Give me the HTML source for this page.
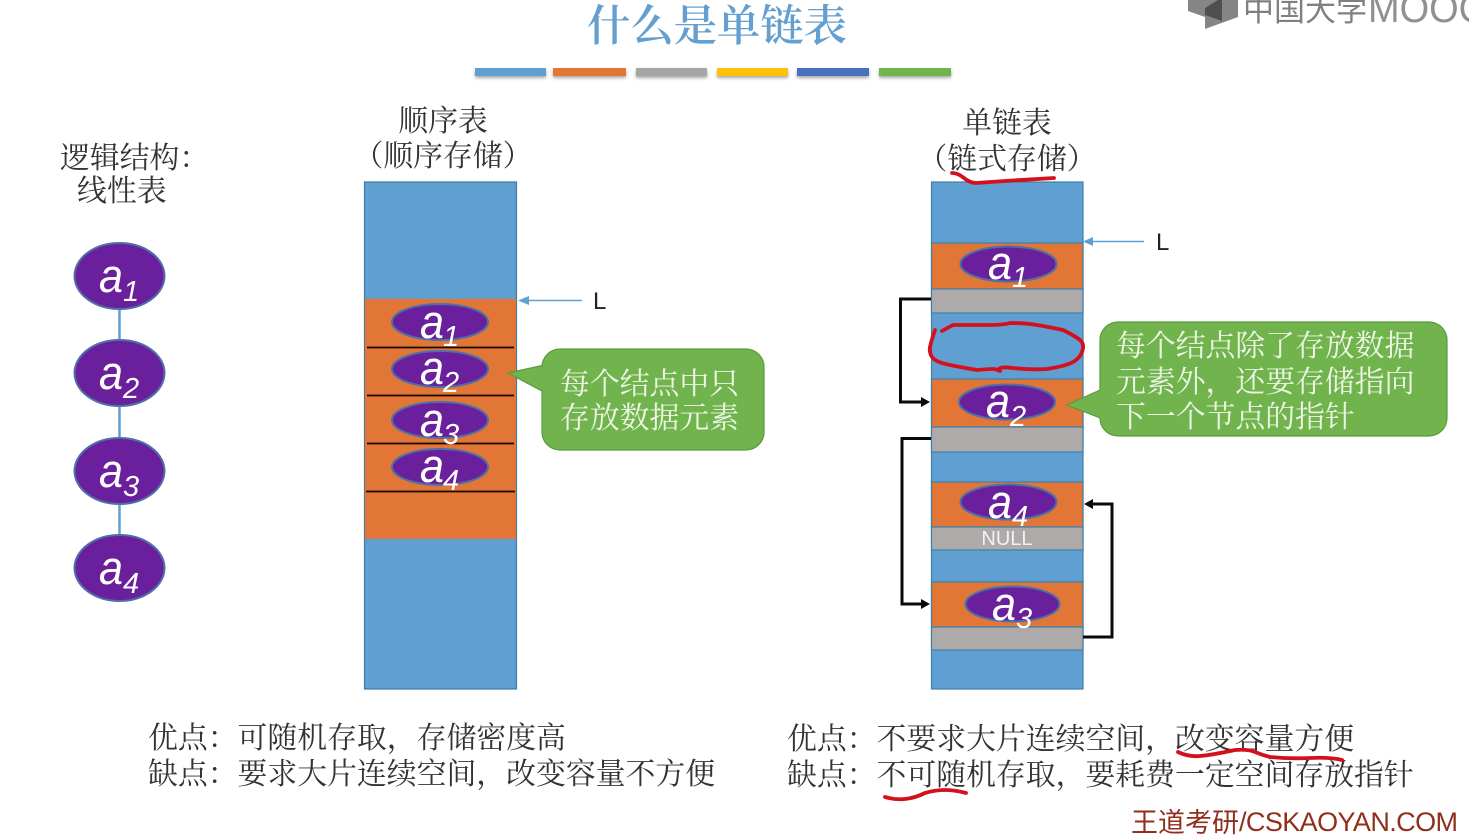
<!DOCTYPE html>
<html><head><meta charset="utf-8"><style>
html,body{margin:0;padding:0;background:#fff;overflow:hidden}
svg{display:block}
text{text-spacing-trim:space-all;font-feature-settings:"palt" 0}
.s{font-family:"Noto Serif CJK SC",serif;font-size:29.85px;fill:#333}
.w{fill:#eef6e6}
.a{font-family:"Liberation Sans","DejaVu Sans",sans-serif;font-style:italic;fill:#fff;font-size:47px}
.b{font-size:29px;font-style:italic}
.red{fill:none;stroke:#d4101c;stroke-width:3.8;stroke-linecap:round;stroke-linejoin:round}
.k{fill:none;stroke:#0a0a0a;stroke-width:3}
.el{fill:#6a1f9c;stroke:#4f6fa8;stroke-width:2}
.cell{stroke:#3f7fa8;stroke-width:1.2}
</style></head><body>
<svg width="1469" height="840" viewBox="0 0 1469 840" xmlns="http://www.w3.org/2000/svg">
<defs><filter id="sh" x="-10%" y="-50%" width="120%" height="220%"><feDropShadow dx="0" dy="2" stdDeviation="1.5" flood-color="#000" flood-opacity=".35"/></filter></defs>

<!-- title -->
<text x="587" y="41" font-family='"Noto Serif CJK SC",serif' font-size="43.5" font-weight="600" fill="#659fd0" textLength="260">什么是单链表</text>
<g filter="url(#sh)">
<rect x="475" y="68" width="71" height="8" fill="#609fd2"/>
<rect x="553" y="68" width="73" height="8" fill="#e27636"/>
<rect x="636" y="68" width="71" height="8" fill="#a5a5a5"/>
<rect x="717" y="68" width="71" height="8" fill="#fcc00f"/>
<rect x="797" y="68" width="72" height="8" fill="#4672bd"/>
<rect x="879" y="68" width="72" height="8" fill="#71b44e"/>
</g>

<!-- logo -->
<polygon points="1188,0 1238,0 1238,17 1205,29 1205,17 1188,11" fill="#858585"/>
<polygon points="1205,8 1218,0 1222,0 1222,21 1205,15" fill="#4f4f4f"/>
<text x="1243" y="21" font-family='"Noto Sans CJK SC",sans-serif' font-size="31" font-weight="400" fill="#808080">中国大学</text>
<text x="1368" y="22" font-family='"Liberation Sans",sans-serif' font-size="40" fill="#909090" textLength="118" lengthAdjust="spacingAndGlyphs">MOOC</text>

<!-- headings -->
<text class="s" x="60" y="168">逻辑结构：</text>
<text class="s" x="77" y="201">线性表</text>
<text class="s" x="443" y="131" text-anchor="middle">顺序表</text>
<text class="s" x="443" y="166" text-anchor="middle">（顺序存储）</text>
<text class="s" x="1007" y="133" text-anchor="middle">单链表</text>
<text class="s" x="1007" y="169" text-anchor="middle">（链式存储）</text>

<!-- logical list -->
<line x1="119.500" y1="300" x2="119.500" y2="545" stroke="#609fd2" stroke-width="2.500"/>
<g class="el">
<ellipse cx="119.500" cy="276" rx="45" ry="33"/>
<ellipse cx="119.500" cy="373" rx="45" ry="33"/>
<ellipse cx="119.500" cy="471" rx="45" ry="33"/>
<ellipse cx="119.500" cy="568" rx="45" ry="33"/>
</g>
<g class="a">
<text x="99" y="292" textLength="24" lengthAdjust="spacingAndGlyphs">a</text><text class="b" x="123" y="301">1</text>
<text x="99" y="389" textLength="24" lengthAdjust="spacingAndGlyphs">a</text><text class="b" x="123" y="398">2</text>
<text x="99" y="487" textLength="24" lengthAdjust="spacingAndGlyphs">a</text><text class="b" x="123" y="496">3</text>
<text x="99" y="584" textLength="24" lengthAdjust="spacingAndGlyphs">a</text><text class="b" x="123" y="593">4</text>
</g>

<!-- sequential table -->
<rect x="364.500" y="182" width="152" height="507" fill="#609fd2" stroke="#41799f" stroke-width="1.200"/>
<rect x="365" y="299" width="151" height="240" fill="#e27636"/>
<g stroke="#1a0a00" stroke-width="1.800">
<line x1="367" y1="347.500" x2="514" y2="347.500"/>
<line x1="367" y1="395.500" x2="514" y2="395.500"/>
<line x1="367" y1="443.500" x2="514" y2="443.500"/>
<line x1="366" y1="491.500" x2="515" y2="491.500"/>
</g>
<g class="el">
<ellipse cx="440" cy="322" rx="48" ry="18"/>
<ellipse cx="440" cy="369" rx="48" ry="18"/>
<ellipse cx="440" cy="420" rx="48" ry="18"/>
<ellipse cx="440" cy="467" rx="48" ry="18"/>
</g>
<g class="a">
<text x="420" y="338" textLength="24" lengthAdjust="spacingAndGlyphs">a</text><text class="b" x="443" y="346">1</text>
<text x="420" y="384" textLength="24" lengthAdjust="spacingAndGlyphs">a</text><text class="b" x="443" y="392">2</text>
<text x="420" y="436" textLength="24" lengthAdjust="spacingAndGlyphs">a</text><text class="b" x="443" y="444">3</text>
<text x="420" y="482" textLength="24" lengthAdjust="spacingAndGlyphs">a</text><text class="b" x="443" y="490">4</text>
</g>
<line x1="528" y1="300.500" x2="582" y2="300.500" stroke="#609fd2" stroke-width="1.500"/>
<polygon points="518,300.500 529,296 529,305" fill="#609fd2"/>
<text x="593" y="309" font-family='"Liberation Sans",sans-serif' font-size="24" fill="#222">L</text>

<!-- callout 1 -->
<path d="M560,349H746a18,18 0 0 1 18,18V432a18,18 0 0 1 -18,18H560a18,18 0 0 1 -18,-18V391L508,373L542,365.500V367a18,18 0 0 1 18,-18Z" fill="#71b44e" stroke="#5a9a3c" stroke-width="1.200"/>
<text class="s w" x="560" y="394">每个结点中只</text>
<text class="s w" x="560" y="428">存放数据元素</text>

<!-- linked table -->
<rect x="931.500" y="182" width="151.500" height="507" fill="#609fd2" class="cell"/>
<g class="cell">
<rect x="931.500" y="243" width="151.500" height="46" fill="#e27636"/>
<rect x="931.500" y="289" width="151.500" height="24" fill="#aeaaaa"/>
<rect x="931.500" y="379" width="151.500" height="48" fill="#e27636"/>
<rect x="931.500" y="427" width="151.500" height="25" fill="#aeaaaa"/>
<rect x="931.500" y="482" width="151.500" height="45" fill="#e27636"/>
<rect x="931.500" y="527" width="151.500" height="23" fill="#aeaaaa"/>
<rect x="931.500" y="582" width="151.500" height="45" fill="#e27636"/>
<rect x="931.500" y="627" width="151.500" height="23" fill="#aeaaaa"/>
</g>
<g class="el">
<ellipse cx="1008.500" cy="264" rx="48" ry="17.500"/>
<ellipse cx="1007" cy="402" rx="48" ry="17.500"/>
<ellipse cx="1008.500" cy="502" rx="48" ry="17.500"/>
<ellipse cx="1012.500" cy="604" rx="47" ry="17.500"/>
</g>
<g class="a">
<text x="988" y="279" textLength="24" lengthAdjust="spacingAndGlyphs">a</text><text class="b" x="1012" y="287">1</text>
<text x="986" y="417" textLength="24" lengthAdjust="spacingAndGlyphs">a</text><text class="b" x="1010" y="426">2</text>
<text x="988" y="518" textLength="24" lengthAdjust="spacingAndGlyphs">a</text><text class="b" x="1012" y="526">4</text>
<text x="992" y="620" textLength="24" lengthAdjust="spacingAndGlyphs">a</text><text class="b" x="1016" y="628">3</text>
</g>
<text x="1007" y="545" text-anchor="middle" font-family='"Liberation Sans",sans-serif' font-size="20" fill="#f2f2f2">NULL</text>

<line x1="1092" y1="241.500" x2="1144" y2="241.500" stroke="#609fd2" stroke-width="1.500"/>
<polygon points="1083,241.500 1093,237 1093,246" fill="#609fd2"/>
<text x="1156" y="250" font-family='"Liberation Sans",sans-serif' font-size="24" fill="#222">L</text>

<!-- connectors -->
<path class="k" d="M931,299H900.500V402H924"/>
<polygon points="930,402 921,397 921,407" fill="#0a0a0a"/>
<path class="k" d="M931,438.500H902V604H924"/>
<polygon points="930,604 921,599 921,609" fill="#0a0a0a"/>
<path class="k" d="M1083,637H1112V504H1090"/>
<polygon points="1084,504 1093,499 1093,509" fill="#0a0a0a"/>

<!-- callout 2 -->
<path d="M1118,322H1429a18,18 0 0 1 18,18V418a18,18 0 0 1 -18,18H1118a18,18 0 0 1 -18,-18L1067,405L1100,390V340a18,18 0 0 1 18,-18Z" fill="#71b44e" stroke="#5a9a3c" stroke-width="1.200"/>
<text class="s w" x="1116" y="356">每个结点除了存放数据</text>
<text class="s w" x="1116" y="392">元素外，还要存储指向</text>
<text class="s w" x="1116" y="427">下一个节点的指针</text>

<!-- bottom text -->
<text class="s" x="148" y="748">优点：可随机存取，存储密度高</text>
<text class="s" x="148" y="784">缺点：要求大片连续空间，改变容量不方便</text>
<text class="s" x="787" y="749">优点：不要求大片连续空间，改变容量方便</text>
<text class="s" x="787" y="785">缺点：不可随机存取，要耗费一定空间存放指针</text>
<text x="1131" y="832" font-family='"Noto Sans CJK SC",sans-serif' font-size="27" fill="#8f2f1c">王道考研</text>
<text x="1239" y="831" font-family='"Liberation Sans",sans-serif' font-size="27" fill="#8f2f1c" textLength="219">/CSKAOYAN.COM</text>

<!-- red pen -->
<path class="red" d="M952,173Q958,173 964,178T976,183Q990,182 1005,181T1054,178"/>
<path class="red" d="M942,331L953,325Q970,325 987,325T1010,323Q1025,323 1037,325T1063,330Q1075,336 1080,340T1082,352Q1080,358 1073,362T1047,369Q1030,370 1013,368T1000,371Q996,369 993,369T977,370Q965,368 950,365T932,357Q929,352 930,347T935,330"/>
<path class="red" d="M1178,752Q1188,757 1200,756T1235,750Q1248,749 1255,752T1270,757Q1290,759 1310,758T1342,760"/>
<path class="red" d="M885,797Q895,800 905,799T925,793Q935,790 945,790T966,793"/>
</svg>
</body></html>
